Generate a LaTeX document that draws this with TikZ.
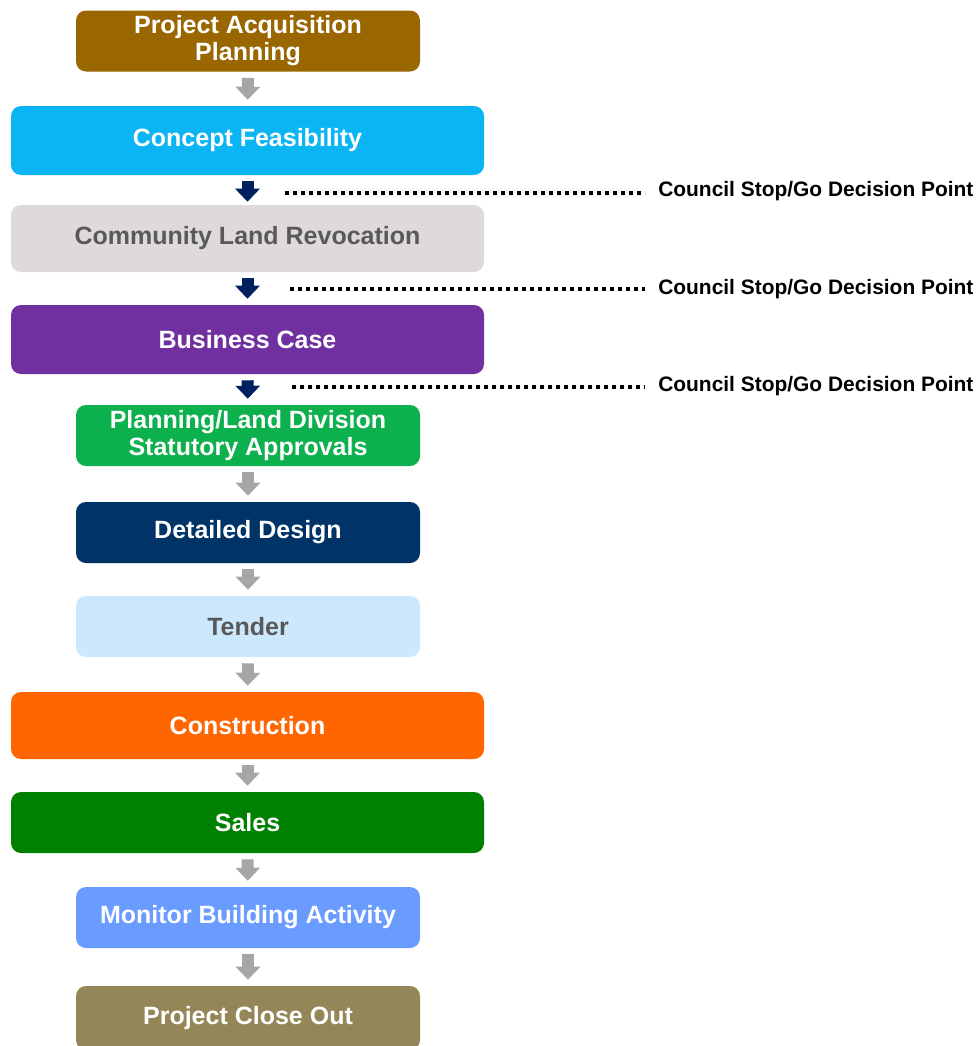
\documentclass[tikz,border=0pt]{standalone}
\usepackage{fontspec}
\setmainfont{Liberation Sans}
\usetikzlibrary{arrows.meta}
\definecolor{cBrown}{HTML}{996600}
\definecolor{cCyan}{HTML}{0BB5F3}
\definecolor{cLGray}{HTML}{DDD9DC}
\definecolor{cPurple}{HTML}{7030A0}
\definecolor{cGreen}{HTML}{0CB04D}
\definecolor{cNavy}{HTML}{003366}
\definecolor{cLBlue}{HTML}{CCE8FD}
\definecolor{cOrange}{HTML}{FF6600}
\definecolor{cDGreen}{HTML}{008000}
\definecolor{cMBlue}{HTML}{6A9BFF}
\definecolor{cOlive}{HTML}{958658}
\definecolor{cDText}{HTML}{595959}
\definecolor{cGArrow}{HTML}{A6A6A6}
\definecolor{cNArrow}{HTML}{00205F}
\tikzset{
  stage/.style={rectangle, rounded corners=7.5pt, inner sep=0pt, align=center,
    text=white, font=\fontsize{18.75}{20.25}\selectfont\bfseries,
    minimum height=61*0.75pt},
  narrow/.style={stage, minimum width=344*0.75pt},
  wide/.style={stage, minimum width=473*0.75pt},
  garrow/.style={draw=cGArrow, line width=12*0.75pt,
    -{Triangle[length=13*0.75pt, width=24*0.75pt]},
    shorten <=6*0.75pt, shorten >=6*0.75pt},
  narrowarrow/.style={garrow, draw=cNArrow},
  decision/.style={anchor=west, inner sep=0pt, font=\fontsize{15.7}{18}\selectfont\bfseries, text=black},
  dotline/.style={line width=4*0.75pt, dash pattern=on 4*0.75pt off 4*0.75pt}
}
\begin{document}
\begin{tikzpicture}[x=0.75pt, y=-0.75pt]
\useasboundingbox (0,0) rectangle (978,1046);
\node[narrow, fill=cBrown] (s1) at (248,41) {Project Acquisition\\Planning};
\node[wide, fill=cCyan, minimum height=69*0.75pt] (s2) at (247.5,140.5) {Concept Feasibility};
\node[wide, fill=cLGray, text=cDText, minimum height=67*0.75pt] (s3) at (247.5,238.5) {Community Land Revocation};
\node[wide, fill=cPurple, minimum height=69*0.75pt] (s4) at (247.5,339.5) {Business Case};
\node[narrow, fill=cGreen] (s5) at (248,435.5) {Planning/Land Division\\Statutory Approvals};
\node[narrow, fill=cNavy] (s6) at (248,532.5) {Detailed Design};
\node[narrow, fill=cLBlue, text=cDText] (s7) at (248,626.5) {Tender};
\node[wide, fill=cOrange, minimum height=67*0.75pt] (s8) at (247.5,725.5) {Construction};
\node[wide, fill=cDGreen] (s9) at (247.5,822.5) {Sales};
\node[narrow, fill=cMBlue] (s10) at (248,917.5) {Monitor Building Activity};
\node[narrow, fill=cOlive, minimum height=64*0.75pt] (s11) at (248,1018) {Project Close Out};

\draw[garrow] (s1) -- (s2);
\draw[narrowarrow, shorten >=3*0.75pt] (s2) -- (s3);
\draw[narrowarrow] (s3) -- (s4);
\draw[narrowarrow] (s4) -- (s5);
\draw[garrow] (s5) -- (s6);
\draw[garrow] (s6) -- (s7);
\draw[garrow] (s7) -- (s8);
\draw[garrow] (s8) -- (s9);
\draw[garrow] (s9) -- (s10);
\draw[garrow] (s10) -- (s11);

\node[decision] (d1) at (658,191) {Council Stop/Go Decision Point};
\node[decision] (d2) at (658,289) {Council Stop/Go Decision Point};
\node[decision] (d3) at (658,386) {Council Stop/Go Decision Point};
\coordinate (l1) at (285,193);
\coordinate (l2) at (290,289);
\coordinate (l3) at (292,387);
\draw[dotline] (l1) -- (l1 -| 645,0);
\draw[dotline] (l2) -- (l2 -| 645,0);
\draw[dotline] (l3) -- (l3 -| 645,0);
\end{tikzpicture}
\end{document}
